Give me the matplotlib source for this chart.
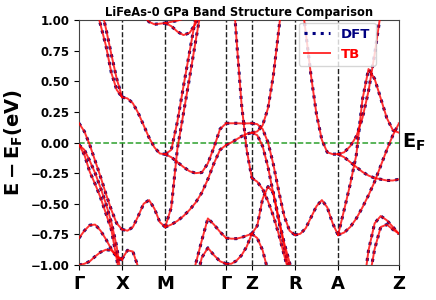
import numpy as np
import matplotlib.pyplot as plt

# high-symmetry path
labels = ['Γ', 'X', 'M', 'Γ', 'Z', 'R', 'A', 'Z']
seg_len = [1.0, 1.0, 1.414, 0.596, 1.0, 1.0, 1.414]
kpts = np.concatenate([[0.0], np.cumsum(seg_len)])

# bands read per segment (values outside [-1, 1] just run off the plot)
gx_bands = [
    [1.7, 1.55, 1.35, 1.13, 0.96, 0.79, 0.57, 0.43, 0.37],
    [1.9, 1.75, 1.55, 1.3, 1.12, 0.93, 0.72, 0.52, 0.37],
    [0.157, 0.09, -0.02, -0.15, -0.28, -0.42, -0.55, -0.66, -0.71],
    [-0.02, -0.10, -0.24, -0.34, -0.45, -0.58, -0.71, -0.95, -1.2],
    [-0.02, -0.06, -0.15, -0.25, -0.37, -0.50, -0.65, -0.85, -1.15],
    [-0.78, -0.72, -0.675, -0.67, -0.72, -0.79, -0.87, -0.93, -0.95],
    [-1.0, -0.99, -0.97, -0.93, -0.895, -0.875, -0.88, -0.93, -0.96],
]
xm_bands = [
    [0.37, 0.36, 0.32, 0.24, 0.14, 0.04, -0.04, -0.09, -0.096],
    [-0.71, -0.72, -0.69, -0.60, -0.50, -0.47, -0.54, -0.65, -0.69],
    [-0.95, -0.88, -0.89, -1.02, -1.2, -1.4, -1.5, -1.5, -1.5],
    [1.6, 1.45, 1.3, 1.15, 1.03, 0.985, 0.965, 0.97, 0.975],
]
mg_bands = [
    [0.975, 0.985, 0.995, 1.01, 1.03, 1.06, 1.1, 1.15, 1.2, 1.25, 1.3],
    [0.975, 0.95, 0.905, 0.877, 0.895, 0.97, 1.1, 1.3, 1.5, 1.7, 1.9],
    [-0.096, -0.06, 0.17, 0.46, 0.74, 1.02, 1.3, 1.6, 1.9, 2.2, 2.5],
    [-0.69, -0.53, -0.05, 0.24, 0.53, 0.83, 1.12, 1.4, 1.7, 2.0, 2.3],
    [-0.096, -0.12, -0.16, -0.20, -0.235, -0.25, -0.245, -0.17, -0.04, 0.11, 0.157],
    [-0.69, -0.67, -0.64, -0.60, -0.55, -0.49, -0.41, -0.30, -0.17, -0.06, -0.02],
    [-1.6, -1.5, -1.4, -1.3, -1.2, -0.99, -0.80, -0.62, -0.67, -0.73, -0.78],
    [-1.6, -1.5, -1.4, -1.3, -1.25, -1.15, -0.94, -0.86, -0.92, -0.97, -0.99],
]
gz_bands = [
    [0.157, 0.157, 0.157, 0.156, 0.156, 0.157],
    [-0.02, 0.0, 0.025, 0.05, 0.07, 0.08],
    [2.0, 1.45, 0.85, 0.31, -0.06, -0.29],
    [-0.78, -0.785, -0.785, -0.775, -0.76, -0.745],
    [-0.99, -0.99, -0.965, -0.92, -0.85, -0.745],
]
zr_bands = [
    [0.157, 0.15, 0.11, 0.0, -0.18, -0.40, -0.60, -0.72, -0.755],
    [0.08, 0.09, 0.14, 0.28, 0.55, 0.92, 1.3, 1.7, 2.1],
    [0.08, 0.06, -0.03, -0.2, -0.42, -0.64, -0.85, -1.05, -1.25],
    [-0.29, -0.32, -0.38, -0.48, -0.6, -0.75, -0.92, -1.08, -1.25],
    [-0.745, -0.68, -0.46, -0.36, -0.41, -0.62, -0.82, -0.98, -1.15],
    [-0.745, -0.78, -0.88, -1.05, -1.25, -1.4, -1.5, -1.6, -1.7],
]
ra_bands = [
    [1.6, 1.25, 0.9, 0.54, 0.23, 0.02, -0.08, -0.095, -0.095],
    [-0.755, -0.745, -0.70, -0.61, -0.52, -0.47, -0.53, -0.66, -0.755],
]
az_bands = [
    [-0.095, -0.08, -0.03, 0.05, 0.20, 0.42, 0.72, 1.06, 1.4, 1.8, 2.2],
    [-0.755, -0.55, -0.34, -0.10, 0.35, 0.60, 0.52, 0.36, 0.20, 0.10, 0.08],
    [-0.095, -0.12, -0.16, -0.20, -0.24, -0.27, -0.29, -0.30, -0.31, -0.31, -0.30],
    [-0.755, -0.735, -0.69, -0.62, -0.53, -0.43, -0.32, -0.19, -0.06, 0.06, 0.157],
    [-2.0, -1.8, -1.6, -1.45, -1.25, -0.88, -0.66, -0.60, -0.635, -0.69, -0.745],
    [-2.0, -1.8, -1.6, -1.45, -1.3, -1.15, -0.87, -0.69, -0.67, -0.71, -0.745],
]
segments = [gx_bands, xm_bands, mg_bands, gz_bands, zr_bands, ra_bands, az_bands]

fig = plt.figure(figsize=(4.36, 3.0), dpi=100)
ax = fig.add_axes([79 / 436, 35 / 300, 320 / 436, 245 / 300])

for i, seg in enumerate(segments):
    for e in seg:
        k = np.linspace(kpts[i], kpts[i + 1], len(e))
        ax.plot(k, e, color='navy', ls=':', lw=2.2, zorder=2,
                label='DFT' if (i == 0 and e is seg[0]) else None)
        ax.plot(k, e, color='red', ls='-', lw=1.4, alpha=0.8, zorder=3,
                label='TB' if (i == 0 and e is seg[0]) else None)

for k in kpts[1:-1]:
    ax.axvline(k, color='#222222', ls='--', lw=1.0, zorder=1)
ax.axhline(0, color='#2ca02c', ls='--', lw=1.1, zorder=1)

for sp in ax.spines.values():
    sp.set_color('#444444')

ax.set_xlim(kpts[0], kpts[-1])
ax.set_ylim(-1, 1)
ax.set_xticks(kpts)
ax.set_xticklabels(labels, fontsize=13, fontweight='bold')
yt = np.arange(-1, 1.01, 0.25)
ax.set_yticks(yt)
ax.set_yticklabels(['%.2f' % v if v >= 0 else '\u2212%.2f' % -v for v in yt],
                   fontsize=8.5, fontweight='bold')
ax.set_ylabel(r'$\mathbf{E - E_F (eV)}$', fontsize=14)
ax.set_title('LiFeAs-0 GPa Band Structure Comparison', fontsize=8.3, fontweight='bold', pad=3)
ax.text(1.01, 0, r'$\mathbf{E_F}$', transform=ax.get_yaxis_transform(),
        fontsize=14, va='center', ha='left')

leg = ax.legend(loc='upper right', bbox_to_anchor=(0.935, 1.0),
                prop={'weight': 'bold', 'size': 9.5}, borderaxespad=0.2)
for txt, col in zip(leg.get_texts(), ['navy', 'red']):
    txt.set_color(col)

plt.savefig('out.png', dpi=100)
